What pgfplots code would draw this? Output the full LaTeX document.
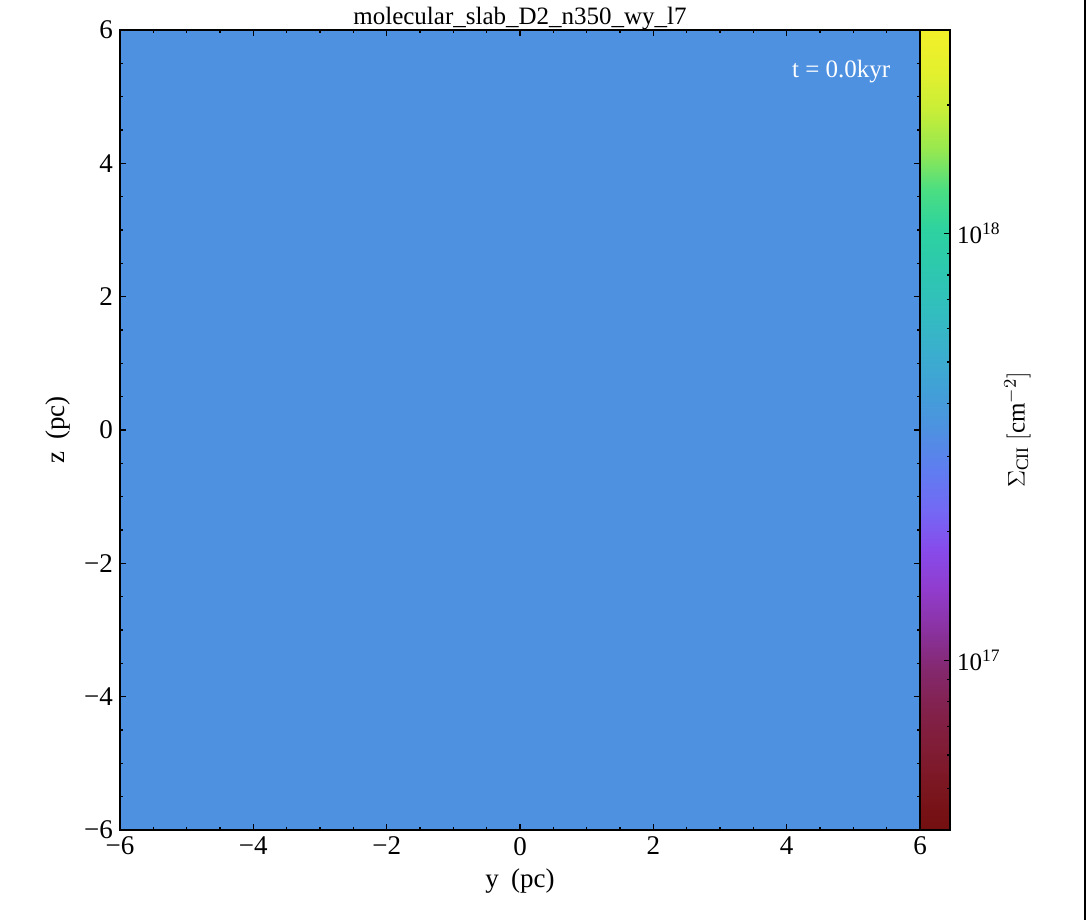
\documentclass[border=0pt]{standalone}
\usepackage{fontspec}
\setmainfont{Liberation Serif}
\usepackage{pgfplots}
\pgfplotsset{compat=1.18}
\pgfplotsset{
  colormap={slab}{
    rgb255=(115,15,15) rgb255=(122,22,30) rgb255=(128,28,52) rgb255=(130,33,75)
    rgb255=(132,40,110) rgb255=(138,50,160) rgb255=(145,60,205) rgb255=(135,75,235)
    rgb255=(115,105,245) rgb255=(95,125,240) rgb255=(78,145,225) rgb255=(65,160,215)
    rgb255=(58,175,205) rgb255=(50,190,190) rgb255=(45,200,175) rgb255=(45,210,160)
    rgb255=(75,222,130) rgb255=(150,232,80) rgb255=(200,238,55) rgb255=(228,240,45)
    rgb255=(242,240,40)
  }
}
\newcommand{\fs}{\fontsize{12.5}{15}\selectfont}
\newcommand{\ft}{\fontsize{13.5}{16}\selectfont}
\begin{document}
\begin{tikzpicture}
\path[use as bounding box] (-60pt,-45pt) rectangle (543pt-60pt,415pt);
\begin{axis}[
  at={(0pt,0pt)}, anchor=south west,
  scale only axis, width=400pt, height=400pt,
  xmin=-6, xmax=6, ymin=-6, ymax=6,
  axis on top,
  axis line style={line width=0.7pt},
  every tick/.style={black, line width=0.6pt},
  tick align=inside, tick pos=both,
  major tick length=3pt, minor tick length=1.7pt,
  xtick={-6,-4,-2,0,2,4,6}, ytick={-6,-4,-2,0,2,4,6},
  xticklabels={−6,−4,−2,0,2,4,6},
  yticklabels={−6,−4,−2,0,2,4,6},
  minor x tick num=3, minor y tick num=3,
  tick label style={font=\ft},
  label style={font=\ft},
  xlabel={y\hspace{0.45em}(pc)},
  ylabel={z\hspace{0.45em}(pc)},
  title={molecular\_slab\_D2\_n350\_wy\_l7},
  title style={font=\fs, at={(0.5,1)}, anchor=south, yshift=-9.5pt},
  colormap name=slab,
  point meta min=16.602, point meta max=18.477,
  colorbar,
  colorbar shift/.style={xshift=0pt},
  colorbar style={
    at={(parent axis.north east)}, anchor=north west, xshift=0pt,
    width=15pt,
    axis line style={line width=0.7pt},
    every tick/.style={black, line width=0.6pt},
    ytick={17,18},
    yticklabels={10\textsuperscript{17},10\textsuperscript{18}},
    minor ytick={16.699,16.778,16.845,16.903,16.954,17.301,17.477,17.602,17.699,17.778,17.845,17.903,17.954,18.301},
    tick align=inside, ytick pos=right, yticklabel pos=right,
    major tick length=3pt, minor tick length=1.7pt,
    tick label style={font=\fs},
    ylabel={$\Sigma_{\rm CII}\ [{\rm cm}^{-2}]$},
    ylabel style={font=\fs},
    ylabel shift=-5pt,
  },
]
\addplot[matrix plot*, mesh/rows=2, mesh/cols=2, point meta=explicit]
  coordinates {(-3,-3) [17.54] (3,-3) [17.54] (-3,3) [17.54] (3,3) [17.54]};
\node[white, anchor=east, font=\fs] at (axis cs:5.66,5.37) {t = 0.0kyr};
\end{axis}
\draw[line width=1pt] (482.5pt,-45pt) -- (482.5pt,415pt);
\end{tikzpicture}
\end{document}
